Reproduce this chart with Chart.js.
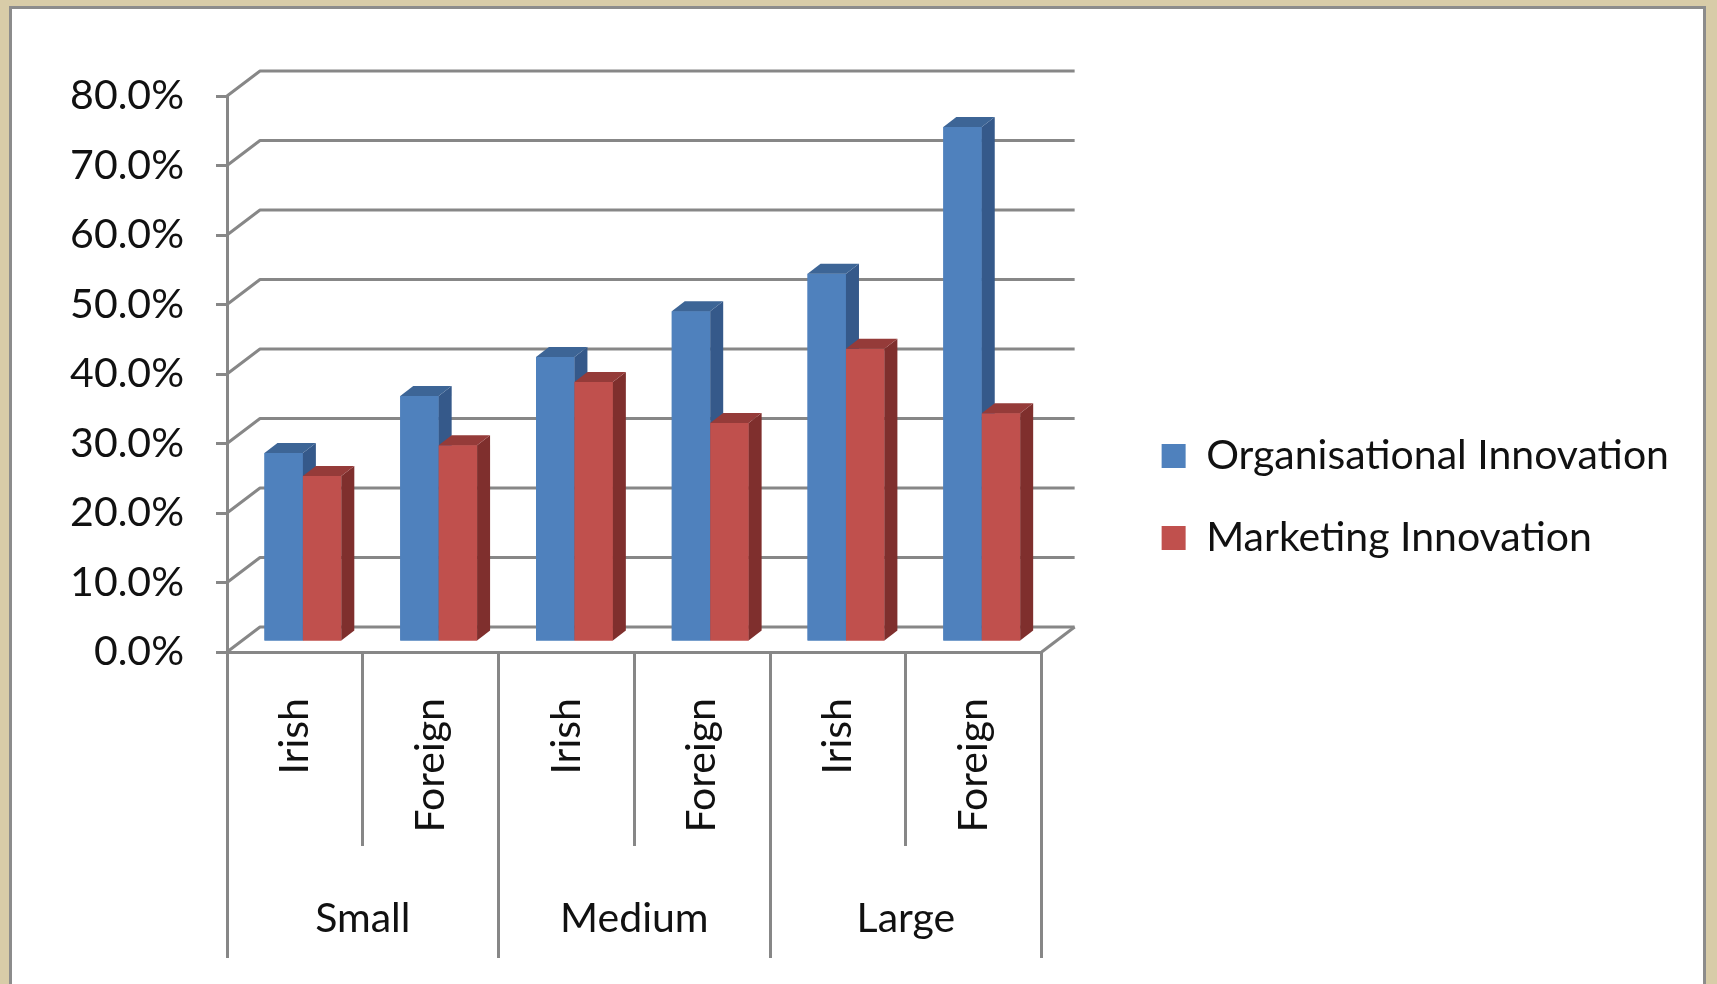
<!DOCTYPE html>
<html>
<head>
<meta charset="utf-8">
<title>Organisational and Marketing Innovation by firm size</title>
<script src="https://cdn.jsdelivr.net/npm/chart.js@4.4.1/dist/chart.umd.min.js"></script>
<style>
  html, body { margin: 0; padding: 0; }
  body { width: 1717px; height: 984px; background: #d8cca8; position: relative; overflow: hidden; }
  #panel {
    position: absolute; left: 9px; top: 6px; width: 1697px; height: 1000px;
    background: #fff; border: 3px solid #8c8c8c; border-bottom: none; box-sizing: border-box;
  }
  #chart { position: absolute; left: 0; top: 0; }
</style>
</head>
<body>
<div id="panel"></div>
<canvas id="chart" width="1717" height="984"></canvas>
<script>
// chart data
const categories = ['Irish', 'Foreign', 'Irish', 'Foreign', 'Irish', 'Foreign'];
const sizeGroups = ['Small', 'Medium', 'Large'];
const organisational = [27.2, 35.4, 41.0, 47.6, 53.0, 74.1];
const marketing = [23.9, 28.3, 37.4, 31.5, 42.2, 32.9];
const seriesNames = ['Organisational Innovation', 'Marketing Innovation'];
const yMax = 80;
const yStep = 10;

// look
const GRID = '#878787';
const TEXT = '#111111';
const FONT = { family: 'Lato, "Open Sans", sans-serif', size: 41 };
const faceColors = [
    { front: '#4f81bd', side: '#35598a', top: '#3d6596' },
    { front: '#c0504d', side: '#7f2f2d', top: '#953b39' }
];

// 3d offsets (pixels)
const WALL_DX = 33, WALL_DY = 25;   // back wall vs front plane
const BAR_DX = 13, BAR_DY = 10;     // depth of one bar
const SHIFT_X = 8, SHIFT_Y = 10;    // bars sit a bit into the floor

Chart.defaults.font.family = FONT.family;
Chart.defaults.color = TEXT;

// back wall grid + floor edge, then the bars again (series order) with side/top faces
const depthPlugin = {
    id: 'depth3d',
    beforeDatasetsDraw(chart) {
        const { ctx, chartArea: a, scales: { y } } = chart;
        ctx.save();
        ctx.strokeStyle = GRID;
        ctx.lineWidth = 3;
        ctx.lineJoin = 'round';
        y.ticks.forEach(t => {
            const py = y.getPixelForValue(t.value);
            ctx.beginPath();
            ctx.moveTo(a.left, py);
            ctx.lineTo(a.left + WALL_DX, py - WALL_DY);
            ctx.lineTo(a.right + WALL_DX, py - WALL_DY);
            ctx.stroke();
        });
        // right edge of the floor
        const py0 = y.getPixelForValue(0);
        ctx.beginPath();
        ctx.moveTo(a.right, py0);
        ctx.lineTo(a.right + WALL_DX, py0 - WALL_DY);
        ctx.stroke();
        ctx.restore();

        ctx.save();
        ctx.translate(SHIFT_X, -SHIFT_Y);
    },
    afterDatasetsDraw(chart) {
        const ctx = chart.ctx;
        chart.data.datasets.forEach((ds, i) => {
            const meta = chart.getDatasetMeta(i);
            const colors = faceColors[i];
            meta.data.forEach(bar => {
                bar.draw(ctx);
                const { x, y, base, width } = bar.getProps(['x', 'y', 'base', 'width'], true);
                const l = x - width / 2;
                const r = x + width / 2;
                ctx.fillStyle = colors.side;
                ctx.beginPath();
                ctx.moveTo(r, y);
                ctx.lineTo(r + BAR_DX, y - BAR_DY);
                ctx.lineTo(r + BAR_DX, base - BAR_DY);
                ctx.lineTo(r, base);
                ctx.closePath();
                ctx.fill();
                ctx.fillStyle = colors.top;
                ctx.beginPath();
                ctx.moveTo(l, y);
                ctx.lineTo(l + BAR_DX, y - BAR_DY);
                ctx.lineTo(r + BAR_DX, y - BAR_DY);
                ctx.lineTo(r, y);
                ctx.closePath();
                ctx.fill();
            });
        });
        ctx.restore();
    }
};

new Chart(document.getElementById('chart'), {
    type: 'bar',
    data: {
        labels: categories,
        datasets: [
            {
                label: seriesNames[0],
                data: organisational,
                backgroundColor: faceColors[0].front,
                borderWidth: 0
            },
            {
                label: seriesNames[1],
                data: marketing,
                backgroundColor: faceColors[1].front,
                borderWidth: 0
            }
        ]
    },
    options: {
        responsive: false,
        animation: false,
        events: [],
        categoryPercentage: 0.566,
        barPercentage: 1.0,
        layout: {
            padding: { top: 36, bottom: 26, left: 0, right: 38 }
        },
        scales: {
            x: {
                type: 'category',
                position: 'bottom',
                weight: 0,
                grid: { drawOnChartArea: false, offset: true, tickLength: 194, color: GRID, lineWidth: 3 },
                border: { display: true, color: GRID, width: 3 },
                ticks: { minRotation: 90, maxRotation: 90, autoSkip: false, padding: -148, font: FONT, color: TEXT },
                afterFit: s => { s.height = 194; }
            },
            x2: {
                type: 'category',
                labels: sizeGroups,
                position: 'bottom',
                weight: 1,
                offset: true,
                grid: { drawOnChartArea: false, offset: true, tickLength: 112, color: GRID, lineWidth: 3 },
                border: { display: false },
                ticks: { autoSkip: false, padding: -64, font: FONT, color: TEXT },
                afterFit: s => { s.height = 112; }
            },
            // empty strip above the plot (room for the back wall)
            topGap: {
                type: 'linear',
                axis: 'x',
                position: 'top',
                grid: { display: false },
                border: { display: false },
                ticks: { display: false },
                afterFit: s => { s.height = 60; }
            },
            y: {
                min: 0,
                max: yMax,
                grid: { drawOnChartArea: false, tickLength: 11, color: GRID, lineWidth: 3 },
                border: { display: true, color: GRID, width: 3 },
                ticks: {
                    stepSize: yStep,
                    padding: 32,
                    font: FONT,
                    color: TEXT,
                    callback: v => v.toFixed(1) + '%'
                },
                afterFit: s => { s.width = 227; }
            },
            // empty strip between the plot and the legend
            gap: {
                type: 'linear',
                axis: 'y',
                position: 'right',
                grid: { display: false },
                border: { display: false },
                ticks: { display: false },
                afterFit: s => { s.width = 79; }
            }
        },
        plugins: {
            legend: {
                position: 'right',
                maxWidth: 700,
                labels: {
                    boxWidth: 24,
                    boxHeight: 24,
                    padding: 41,
                    font: FONT,
                    color: TEXT,
                    sort: (a, b) => a.datasetIndex - b.datasetIndex
                }
            },
            tooltip: { enabled: false }
        }
    },
    plugins: [depthPlugin]
});
</script>
</body>
</html>
